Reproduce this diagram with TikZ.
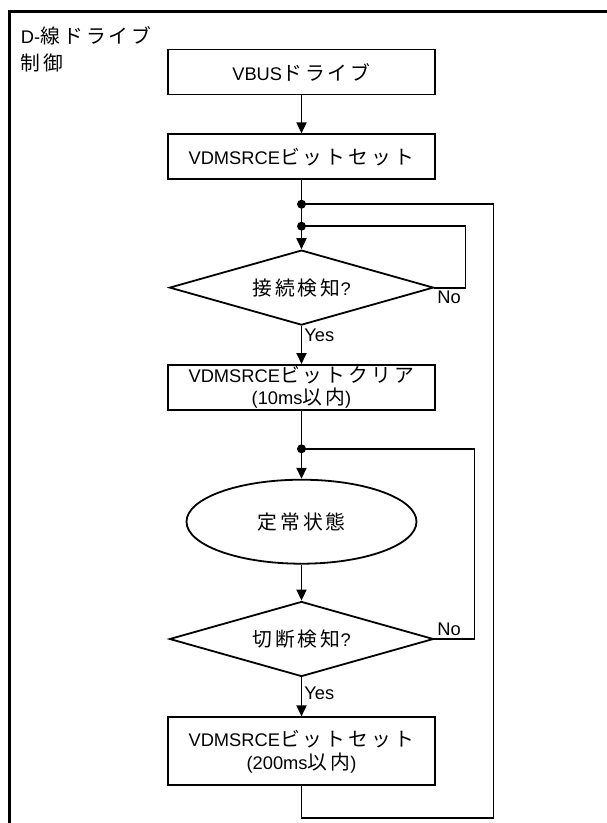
\documentclass[tikz,border=0pt]{standalone}
\usepackage{fontspec}
\setmainfont{Liberation Sans}
\newfontfamily\jpfont[Scale=1.08,LetterSpace=16]{Noto Sans CJK JP}
\usetikzlibrary{arrows.meta,positioning,shapes.geometric}
\newcommand{\J}[1]{{\jpfont #1}}

\begin{document}
\begin{tikzpicture}[x=1pt,y=-1pt,
  font=\fontsize{18.3}{23}\selectfont,
  line width=1.8pt,
  box/.style={rectangle,draw,minimum width=267pt,minimum height=45pt,
    align=center,inner sep=1pt},
  state/.style={ellipse,draw,minimum width=230pt,minimum height=84pt,inner sep=0pt},
  decision/.style={diamond,draw,minimum width=264pt,minimum height=75pt,
    inner sep=0pt,aspect=3.5},
  arr/.style={-{Triangle[length=11pt,width=10pt]}},
  lbl/.style={inner sep=2pt}]

\useasboundingbox (0,0) rectangle (606,823);

% outer frame
\draw[line width=2.2pt] (9.5,840) |- (620,11.5);
\node[anchor=north west,align=left,inner sep=0pt,
  font=\fontsize{18.3}{27}\selectfont] (title) at (20,26) {D-\J{線ドライブ}\\\J{制御}};

\node[box] (vbus) at (301.5,72) {VBUS\J{ドライブ}};
\node[box,below=38pt of vbus] (set1) {VDMSRCE\J{ビットセット}};
\node[decision,below=69pt of set1] (conn) {\J{接続検知}?};
\node[box,below=38pt of conn,inner sep=0pt,font=\fontsize{18.3}{21.5}\selectfont] (clr)
  {VDMSRCE\J{ビットクリア}\\(10ms\J{以内})};
\node[state,below=68pt of clr] (steady) {\J{定常状態}};
\node[decision,below=36pt of steady] (disc) {\J{切断検知}?};
\node[box,below=39pt of disc,minimum height=68pt] (set2) {VDMSRCE\J{ビットセット}\\(200ms\J{以内})};

\coordinate[below=24pt of set1] (j1);
\coordinate[below=46pt of set1] (j2);
\coordinate[below=38pt of clr] (j3);
\coordinate[right=192pt of j1] (jr);

\draw[arr] (vbus) -- (set1);
\draw[arr] (set1) -- (conn);
\draw[arr] (conn) -- node[lbl,right,pos=0.25]{Yes} (clr);
\draw[arr] (clr) -- (steady);
\draw[arr] (steady) -- (disc);
\draw[arr] (disc) -- node[lbl,right,pos=0.42]{Yes} (set2);

% No loops
\draw (conn.east) -- node[lbl,at start,below right]{No} ++(31pt,0) |- (j2);
\draw (disc.east) -- node[lbl,at start,above right]{No} ++(40pt,0) |- (j3);
\draw (set2.south) -- ++(0,-32pt) -| (jr) -- (j1);

\fill (j1) circle[radius=4.5pt];
\fill (j2) circle[radius=4.5pt];
\fill (j3) circle[radius=4.5pt];
\end{tikzpicture}
\end{document}
